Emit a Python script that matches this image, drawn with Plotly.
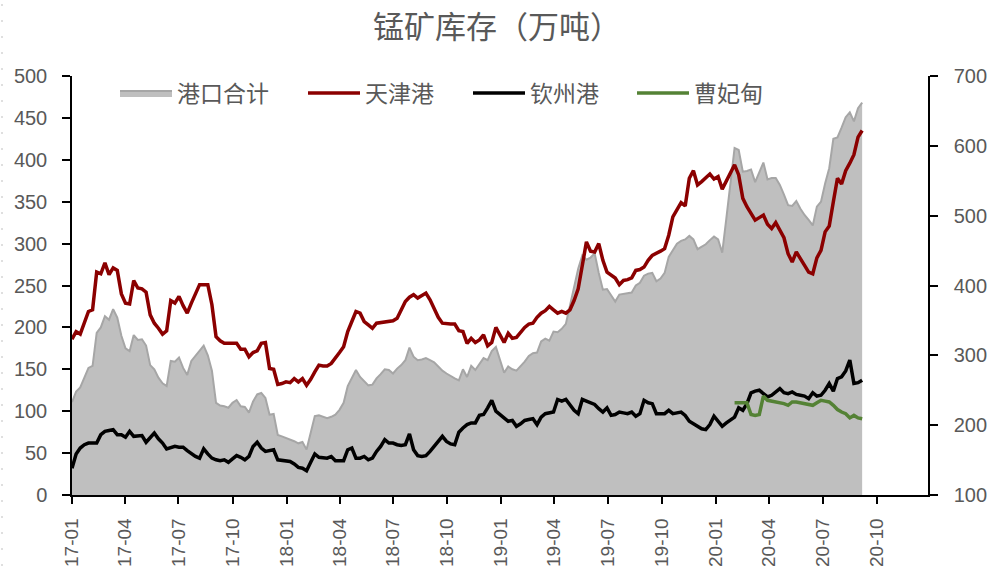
import pandas as pd
import plotly.graph_objects as go

# ---- data (weekly, starting 2017-01-06) ----
start_date = "2017-01-06"

tianjin = [
    186,195,192,205,219,221,266,264,277,263,
    271,268,240,229,228,256,247,246,242,215,
    205,199,192,196,232,229,237,226,217,229,
    240,251,251,251,227,189,184,181,181,181,
    181,174,174,165,170,172,181,182,151,150,
    132,133,135,134,139,135,139,131,138,147,
    155,154,154,157,163,170,177,195,207,219,
    217,207,203,199,205,206,207,207,208,211,
    222,231,236,239,235,238,241,233,222,212,
    205,204,204,204,196,195,181,187,182,185,
    191,178,182,200,191,182,193,187,188,194,
    200,204,205,212,217,220,225,221,217,219,
    217,221,232,246,275,302,291,290,300,280,
    266,262,259,251,256,257,259,268,269,272,
    280,286,288,291,294,310,332,340,349,345,
    378,387,370,374,379,383,377,380,365,375,
    386,394,382,354,344,336,328,331,334,323,
    318,325,315,307,288,278,290,281,274,266,
    264,283,292,314,321,350,378,371,387,396,
    406,427,435,
]

qinzhou = [
    32,49,56,60,62,62,62,72,76,77,
    78,72,72,69,76,70,70,71,63,69,
    74,67,62,55,56,58,57,57,53,49,
    46,44,55,49,44,42,41,42,39,43,
    47,45,42,46,58,63,56,52,53,54,
    42,41,40,40,37,33,32,29,39,49,
    45,44,44,46,41,41,41,54,56,44,
    44,46,42,44,52,58,66,62,62,60,
    59,60,73,54,47,46,47,52,58,64,
    70,64,61,60,75,80,84,86,86,95,
    96,104,113,100,96,91,88,89,82,85,
    89,90,91,84,93,97,98,99,114,112,
    114,107,101,97,114,112,110,108,103,99,
    104,95,96,99,98,97,99,94,97,113,
    110,109,97,97,97,101,97,98,99,95,
    88,85,82,79,78,84,94,88,82,86,
    89,93,104,101,109,122,124,125,121,117,
    119,123,127,122,121,123,120,119,118,115,
    122,118,119,125,133,124,139,141,148,161,
    133,134,137,
]

# 曹妃甸 starts at week index 161 (2020-02-07)
caofeidian_start = 161
caofeidian = [
    110,110,110,110,96,95,96,118,113,112,
    112,111,109,107,111,111,110,109,108,107,
    110,113,112,111,107,102,99,97,92,95,
    92,91,
]

port_total = [
    233,248,254,268,282,285,332,340,356,351,
    366,354,328,310,306,329,322,323,314,286,
    280,268,260,256,292,291,297,282,272,292,
    299,306,314,300,278,232,228,227,225,232,
    236,227,226,218,234,244,246,239,215,216,
    186,184,182,180,177,174,176,165,190,213,
    214,212,210,212,215,222,232,256,268,279,
    269,263,257,258,267,273,280,279,274,281,
    286,293,311,298,293,294,296,293,290,284,
    278,274,270,267,264,280,269,285,279,288,
    296,293,306,312,293,275,284,280,278,284,
    291,299,303,304,320,324,321,334,333,338,
    345,371,396,424,443,437,440,446,418,394,
    395,386,377,387,388,388,390,400,404,414,
    417,418,406,410,418,441,450,460,464,466,
    471,466,452,455,459,465,470,466,447,496,
    550,597,594,563,564,566,548,562,576,552,
    554,554,544,530,515,514,521,510,501,494,
    486,513,520,546,568,610,612,626,641,648,
    635,654,662,
]

tick_labels = ["17-01","17-04","17-07","17-10","18-01","18-04","18-07","18-10",
               "19-01","19-04","19-07","19-10","20-01","20-04","20-07","20-10"]

dates = pd.date_range(start_date, periods=len(tianjin), freq="7D")
cfd_dates = dates[caofeidian_start:caofeidian_start + len(caofeidian)]
tick_vals = [f"20{t[:2]}-{t[3:]}-06" for t in tick_labels]

GREY_TXT = "#595959"
CJK = "Noto Sans CJK SC"
NUM = "Liberation Sans, Noto Sans CJK SC"

W, H = 992, 566
L, R, T, B = 72, 64, 76, 71
PW = W - L - R
PH = H - T - B

fig = go.Figure()

fig.add_trace(go.Scatter(
    x=dates, y=port_total, name="港口合计", yaxis="y", legend="legend",
    mode="lines", line=dict(color="#A6A6A6", width=2),
    fill="tozeroy", fillcolor="#BFBFBF",
))
fig.add_trace(go.Scatter(
    x=dates, y=tianjin, name="天津港", yaxis="y2", legend="legend2",
    mode="lines", line=dict(color="#8B0000", width=3.5),
))
fig.add_trace(go.Scatter(
    x=dates, y=qinzhou, name="钦州港", yaxis="y2", legend="legend3",
    mode="lines", line=dict(color="#000000", width=3.5),
))
fig.add_trace(go.Scatter(
    x=cfd_dates, y=caofeidian, name="曹妃甸", yaxis="y2", legend="legend4",
    mode="lines", line=dict(color="#548235", width=3.5),
))

def leg(px):
    return dict(orientation="h", x=(px - 5 - L) / PW, xanchor="left",
                y=1 - 17 / PH, yanchor="middle",
                font=dict(family=CJK, size=23, color=GREY_TXT),
                bgcolor="rgba(0,0,0,0)", itemwidth=52)

fig.update_layout(
    width=W, height=H,
    margin=dict(l=L, r=R, t=T, b=B),
    paper_bgcolor="white", plot_bgcolor="white",
    title=dict(text="锰矿库存（万吨）", x=497 / W, xanchor="center",
               y=1 - 27 / H, yref="container", yanchor="middle",
               font=dict(family=CJK, size=31, color=GREY_TXT)),
    showlegend=True,
    legend=leg(120), legend2=leg(308), legend3=leg(473), legend4=leg(637),
    xaxis=dict(type="date", range=["2017-01-06", "2021-01-01"],
               tickmode="array", tickvals=tick_vals, ticktext=tick_labels,
               tickangle=-90, ticks="outside", ticklen=7, tickwidth=1.5, tickcolor="black",
               ticklabelstandoff=7,
               showline=True, linecolor="black", linewidth=1.5,
               showgrid=False, zeroline=False, automargin=False,
               tickfont=dict(family=NUM, size=19, color=GREY_TXT)),
    yaxis=dict(range=[100, 700], dtick=100, side="right",
               ticks="outside", ticklen=8, tickwidth=1.5, tickcolor="black",
               ticklabelstandoff=12,
               showline=True, linecolor="black", linewidth=1.5,
               showgrid=False, zeroline=False, automargin=False,
               tickfont=dict(family=NUM, size=20, color=GREY_TXT)),
    yaxis2=dict(range=[0, 500], dtick=50, side="left", overlaying="y",
                ticks="outside", ticklen=8, tickwidth=1.5, tickcolor="black",
                ticklabelstandoff=11,
                showline=True, linecolor="black", linewidth=1.5,
                showgrid=False, zeroline=False, automargin=False,
                tickfont=dict(family=NUM, size=20, color=GREY_TXT)),
    shapes=[dict(type="line", xref="paper", yref="paper",
                 x0=(2 - L) / PW, x1=(2 - L) / PW, y0=-B / PH, y1=1 + T / PH,
                 line=dict(color="#BFBFBF", width=1, dash="2px,14px"))],
)

fig.write_html(
    "out.html",
    config={"displayModeBar": False},
    post_script="document.body.style.margin='0';document.documentElement.style.overflow='hidden';",
)
